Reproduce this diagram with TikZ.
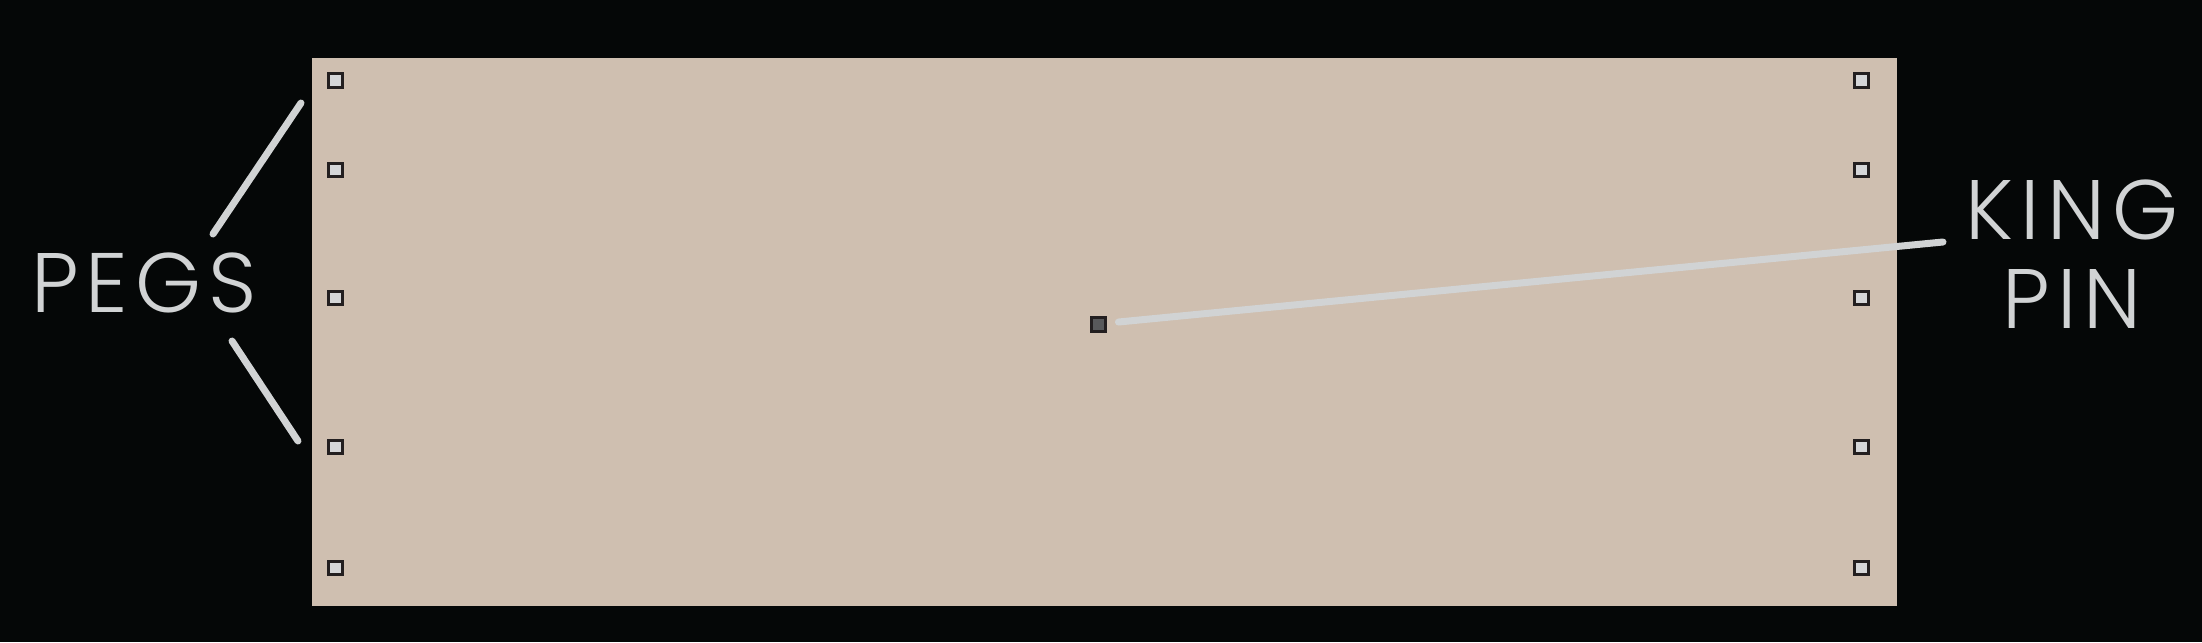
\documentclass[tikz,border=0pt]{standalone}
\usepackage{fontspec}
\setmainfont{Poppins}[UprightFont=* Light, LetterSpace=8.5]
\definecolor{bgblack}{HTML}{050707}
\definecolor{boardtan}{HTML}{CFBFB0}
\definecolor{pegfill}{HTML}{D5D6D8}
\definecolor{pegedge}{HTML}{231F20}
\definecolor{pinfill}{HTML}{58595B}
\definecolor{labelgray}{HTML}{D1D3D4}
\tikzset{
    pegbox/.style={draw=pegedge, fill=pegfill, line width=3\unitpx, minimum size=13.5\unitpx, inner sep=0pt},
    pinbox/.style={pegbox, fill=pinfill, minimum size=14\unitpx},
    callout/.style={draw=labelgray, line width=7\unitpx, line cap=round},
    tag/.style={text=labelgray, font=\fontsize{24}{25.3}\selectfont, inner sep=0pt}
}
\newcommand{\unitpx}{*0.01cm}
\begin{document}
\begin{tikzpicture}[x=0.01cm, y=-0.01cm]
            \fill[bgblack] (0, 0) rectangle (2202, 642);
            \useasboundingbox (0, 0) rectangle (2202, 642);
            \fill[boardtan] (312, 58) rectangle (1897, 606);
            \foreach \side/\xx in {l/335.5, r/1861.5}
                \foreach \yy [count=\i] in {80.5, 170, 298, 447, 568}
                    \node[pegbox] (peg-\side-\i) at (\xx, \yy) {};
            \node[pinbox] (kingpin) at (1098, 324) {};
            \node[tag, anchor=base] (pegs) at (144, 312) {PEGS};
            \node[tag, anchor=base, align=center] (king) at (2072, 328) {KING\\PIN};
            \coordinate (pegs-up-a) at (213, 234);
            \coordinate (pegs-up-b) at (301, 103);
            \coordinate (pegs-dn-a) at (232, 341);
            \coordinate (pegs-dn-b) at (298, 441);
            \coordinate (king-end) at (1943, 242);
            \draw[callout] (pegs-up-a) to (pegs-up-b);
            \draw[callout] (pegs-dn-a) to (pegs-dn-b);
            \draw[callout, shorten <=12\unitpx] (kingpin) to (king-end);
        \end{tikzpicture}
\end{document}
